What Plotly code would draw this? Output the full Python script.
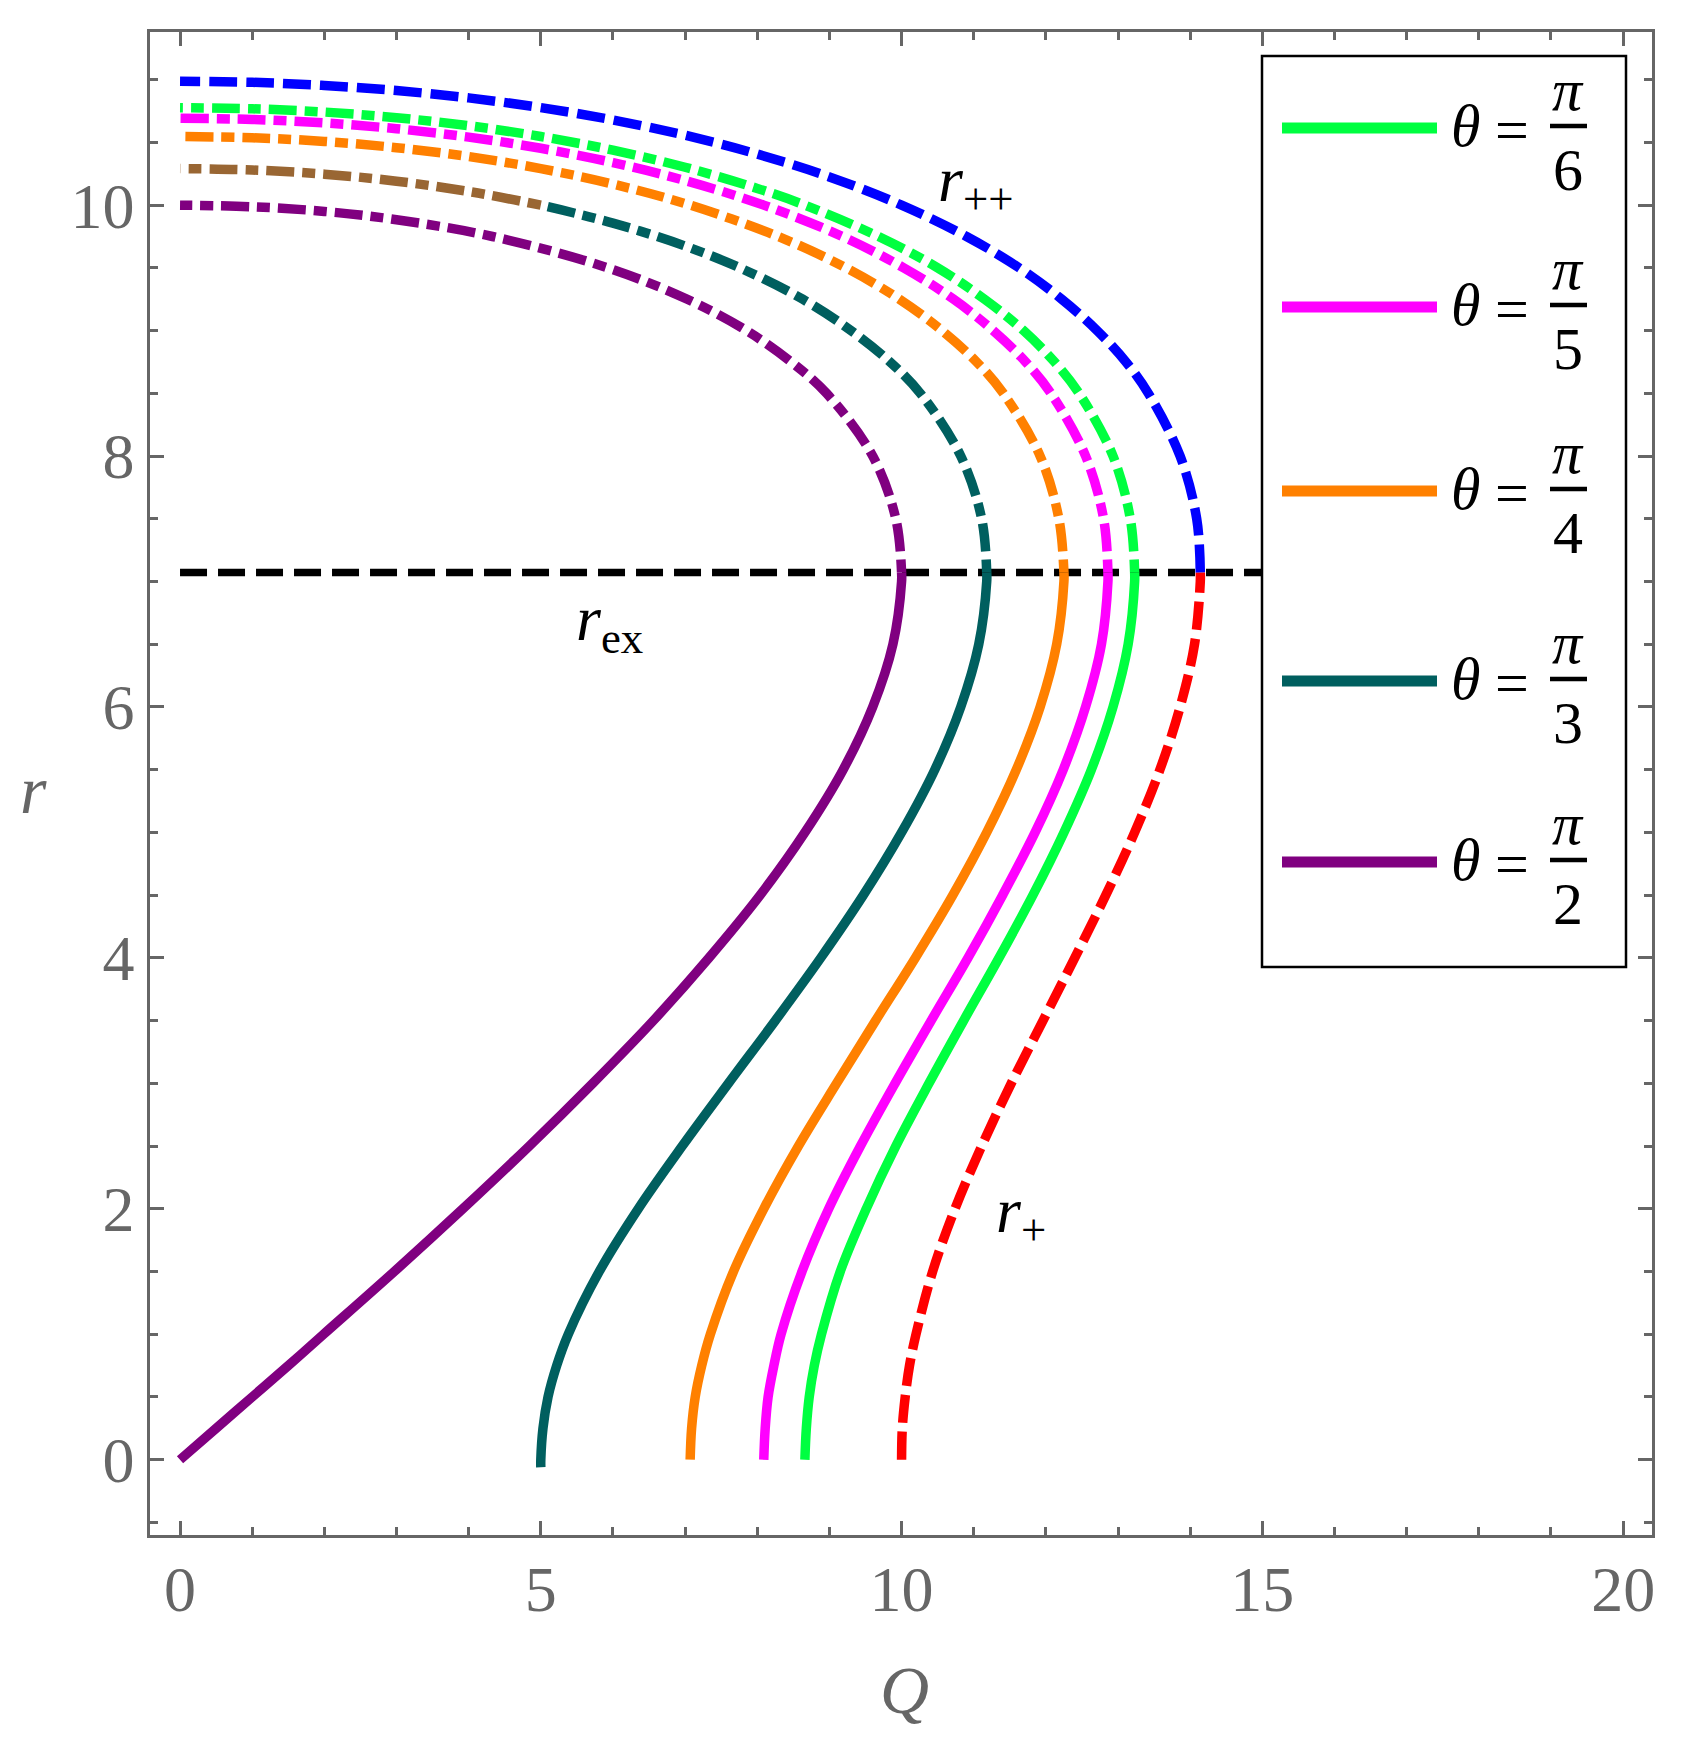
import plotly.graph_objects as go

# ---------------- data ----------------
# lower (solid) branches: shared r samples, Q per theta
R_LOW = [0, 0.25, 0.5, 0.75, 1, 1.5, 2, 2.5, 3, 3.5, 4, 4.5, 5, 5.5, 6, 6.5, 7, 7.071]
Q_LOW_PI2 = [0, 0.50, 1.00, 1.50, 1.99, 2.97, 3.92, 4.84, 5.72, 6.56, 7.33, 8.04, 8.66, 9.19, 9.60, 9.88, 10.00, 10.00]
R_LOW_PI3 = [-0.06, 0, 0.25, 0.5, 0.75, 1, 1.5, 2, 2.5, 3, 3.5, 4, 4.5, 5, 5.5, 6, 6.5, 7, 7.071]
Q_LOW_PI3 = [5.00, 5.00, 5.03, 5.10, 5.22, 5.38, 5.81, 6.35, 6.96, 7.60, 8.25, 8.88, 9.47, 10.00, 10.46, 10.82, 11.07, 11.18, 11.18]
Q_LOW_PI4 = [7.07, 7.09, 7.14, 7.23, 7.35, 7.67, 8.09, 8.57, 9.10, 9.64, 10.19, 10.71, 11.18, 11.59, 11.92, 12.15, 12.25, 12.25]
Q_LOW_PI5 = [8.09, 8.11, 8.15, 8.23, 8.33, 8.62, 8.99, 9.43, 9.91, 10.41, 10.92, 11.40, 11.85, 12.24, 12.55, 12.77, 12.86, 12.86]
Q_LOW_PI6 = [8.66, 8.68, 8.72, 8.79, 8.89, 9.15, 9.51, 9.92, 10.38, 10.86, 11.35, 11.82, 12.25, 12.63, 12.93, 13.14, 13.23, 13.23]
Q_RPLUS = [10.00, 10.01, 10.05, 10.11, 10.20, 10.43, 10.74, 11.11, 11.52, 11.96, 12.40, 12.83, 13.23, 13.58, 13.86, 14.06, 14.14, 14.14]

# upper (dash-dot) branches
Q_UP_PI2 = [10.00, 9.92, 9.60, 8.96, 8.47, 7.85, 7.03, 5.93, 4.33, 3.00, 2.00, 1.00, 0.00]
R_UP_PI2 = [7.071, 7.5, 8, 8.5, 8.75, 9, 9.25, 9.5, 9.75, 9.884, 9.950, 9.987, 10.0]

Q_UP_PI3 = [11.18, 11.11, 10.82, 10.26, 9.84, 9.30, 8.63, 7.76, 7.00, 6.00, 5.00]
R_UP_PI3 = [7.071, 7.5, 8, 8.5, 8.75, 9, 9.25, 9.5, 9.674, 9.857, 10.0]
Q_UP_PI3_BROWN = [5, 4, 3, 2, 1, 0]
R_UP_PI3_BROWN = [10.0, 10.109, 10.191, 10.247, 10.280, 10.291]

Q_UP_PI4 = [12.25, 12.18, 11.92, 11.41, 11.04, 10.56, 9.97, 9.23, 8.29, 7.07, 6, 5, 4, 3, 2, 1, 0]
R_UP_PI4 = [7.071, 7.5, 8, 8.5, 8.75, 9, 9.25, 9.5, 9.75, 10.0, 10.168, 10.291, 10.387, 10.458, 10.508, 10.537, 10.547]

Q_UP_PI5 = [12.86, 12.80, 12.55, 12.07, 11.72, 11.27, 10.72, 10.03, 9.18, 8.09, 7, 6, 5, 4, 3, 2, 1, 0]
R_UP_PI5 = [7.071, 7.5, 8, 8.5, 8.75, 9, 9.25, 9.5, 9.75, 10.0, 10.196, 10.339, 10.453, 10.542, 10.609, 10.655, 10.683, 10.692]

Q_UP_PI6 = [13.23, 13.17, 12.93, 12.46, 12.12, 11.69, 11.15, 10.50, 9.68, 8.66, 8, 7, 6, 5, 4, 3, 2, 1, 0]
R_UP_PI6 = [7.071, 7.5, 8, 8.5, 8.75, 9, 9.25, 9.5, 9.75, 10.0, 10.133, 10.302, 10.438, 10.547, 10.633, 10.697, 10.742, 10.768, 10.777]

Q_RPP = [14.14, 14.09, 13.86, 13.42, 13.11, 12.71, 12.22, 11.63, 10.90, 10.00, 9, 8, 7, 6, 5, 4, 3, 2, 1, 0]
R_RPP = [7.071, 7.5, 8, 8.5, 8.75, 9, 9.25, 9.5, 9.75, 10.0, 10.225, 10.407, 10.557, 10.679, 10.777, 10.855, 10.913, 10.954, 10.979, 10.987]

Q_REX = [0, 15]
R_REX = [7.071, 7.071]

LEGEND_LABELS = ["6", "5", "4", "3", "2"]
X_TICKS = [0, 5, 10, 15, 20]
Y_TICKS = [0, 2, 4, 6, 8, 10]

# ---------------- style ----------------
GREEN = "#00ff40"
MAGENTA = "#ff00ff"
ORANGE = "#ff8000"
TEAL = "#005f5f"
PURPLE = "#800080"
BROWN = "#996633"
BLUE = "#0000ff"
RED = "#ff0000"
GRAY = "#666666"
FONT = "Liberation Serif, Times New Roman, serif"
DASHDOT = "13px,8px,28px,8px"
DASH = "28px,9px"
LW = 9.5

OFF = 8  # page body margin
W, H = 1676, 1726
# plot area in screenshot pixels: x 150..1652, y 32..1535
ML = 150 - OFF
MT = 32 - OFF
MR = W - (1652 - OFF)
MB = H - (1535 - OFF)
PW = W - ML - MR
PH = H - MT - MB


def px(x):
    return (x - OFF - ML) / PW


def py(y):
    return (H - MB - (y - OFF)) / PH


fig = go.Figure()


def add(q, r, color, dash=None, width=LW):
    fig.add_trace(go.Scatter(x=q, y=r, mode="lines", showlegend=False, hoverinfo="skip",
                             line=dict(color=color, width=width, dash=dash, shape="spline", smoothing=1.0)))


add(Q_REX, R_REX, "black", "27px,11px", 7.5)
add(Q_LOW_PI2, R_LOW, PURPLE)
add(Q_LOW_PI3, R_LOW_PI3, TEAL)
add(Q_LOW_PI4, R_LOW, ORANGE)
add(Q_LOW_PI5, R_LOW, MAGENTA)
add(Q_LOW_PI6, R_LOW, GREEN)
add(Q_UP_PI2, R_UP_PI2, PURPLE, DASHDOT)
add(Q_UP_PI3, R_UP_PI3, TEAL, DASHDOT)
add(Q_UP_PI3_BROWN, R_UP_PI3_BROWN, BROWN, DASHDOT)
add(Q_UP_PI4, R_UP_PI4, ORANGE, DASHDOT)
add(Q_UP_PI5, R_UP_PI5, MAGENTA, DASHDOT)
add(Q_UP_PI6, R_UP_PI6, GREEN, DASHDOT)
add(Q_RPP, R_RPP, BLUE, DASH)
add(Q_RPLUS, R_LOW, RED, DASH)

axis_common = dict(
    showline=True, linecolor=GRAY, linewidth=2.5, mirror="ticks",
    ticks="inside", ticklen=14, tickwidth=2.5, tickcolor=GRAY,
    showgrid=False, zeroline=False,
    tickfont=dict(family=FONT, size=64, color=GRAY),
)

fig.update_layout(
    width=W, height=H,
    margin=dict(l=ML, r=MR, t=MT, b=MB),
    paper_bgcolor="white", plot_bgcolor="white",
    showlegend=False,
    xaxis=dict(range=[-0.416, 20.40], tickvals=X_TICKS, ticklabelstandoff=-4,
               minor=dict(ticks="inside", ticklen=8, tickwidth=2.5, tickcolor=GRAY, dtick=1, tick0=0, showgrid=False),
               **axis_common),
    yaxis=dict(range=[-0.60, 11.38], tickvals=Y_TICKS, ticklabelstandoff=0,
               minor=dict(ticks="inside", ticklen=8, tickwidth=2.5, tickcolor=GRAY, dtick=0.5, tick0=0, showgrid=False),
               **axis_common),
)

ann = []
shapes = []
# axis titles
ann.append(dict(text="<i>Q</i>", xref="paper", yref="paper", x=px(904), y=py(1690), showarrow=False,
                xanchor="center", yanchor="middle", font=dict(family=FONT, size=68, color=GRAY)))
ann.append(dict(text="<i>r</i>", xref="paper", yref="paper", x=px(33), y=py(790), showarrow=False,
                xanchor="center", yanchor="middle", font=dict(family=FONT, size=68, color=GRAY)))
# curve labels
lab_font = dict(family=FONT, size=64, color="black")
ann.append(dict(text="<i>r</i><sub>++</sub>", x=11.03, y=10.17, xref="x", yref="y", showarrow=False,
                xanchor="center", yanchor="middle", font=lab_font))
ann.append(dict(text="<i>r</i><sub>ex</sub>", x=5.95, y=6.67, xref="x", yref="y", showarrow=False,
                xanchor="center", yanchor="middle", font=lab_font))
ann.append(dict(text="<i>r</i><sub>+</sub>", x=11.65, y=1.95, xref="x", yref="y", showarrow=False,
                xanchor="center", yanchor="middle", font=lab_font))

# legend box
shapes.append(dict(type="rect", xref="paper", yref="paper", x0=px(1262), x1=px(1626), y0=py(967), y1=py(56),
                   line=dict(color="black", width=2.5), fillcolor="white", layer="above"))
leg_colors = [GREEN, MAGENTA, ORANGE, TEAL, PURPLE]
leg_y = [128, 307, 491, 681, 862]
leg_font = dict(family=FONT, size=60, color="black")
for col, ly, den in zip(leg_colors, leg_y, LEGEND_LABELS):
    shapes.append(dict(type="line", xref="paper", yref="paper", x0=px(1282), x1=px(1437), y0=py(ly), y1=py(ly),
                       line=dict(color=col, width=11), layer="above"))
    ann.append(dict(text="<i>θ</i>", xref="paper", yref="paper", x=px(1465), y=py(ly - 2), showarrow=False,
                    xanchor="center", yanchor="middle", font=leg_font))
    ann.append(dict(text="=", xref="paper", yref="paper", x=px(1512), y=py(ly + 2), showarrow=False,
                    xanchor="center", yanchor="middle", font=leg_font))
    shapes.append(dict(type="line", xref="paper", yref="paper", x0=px(1550), x1=px(1587), y0=py(ly - 2), y1=py(ly - 2),
                       line=dict(color="black", width=4.5), layer="above"))
    ann.append(dict(text="<i>π</i>", xref="paper", yref="paper", x=px(1568), y=py(ly - 38), showarrow=False,
                    xanchor="center", yanchor="middle", font=leg_font))
    ann.append(dict(text=den, xref="paper", yref="paper", x=px(1568), y=py(ly + 42), showarrow=False,
                    xanchor="center", yanchor="middle", font=leg_font))

fig.update_layout(annotations=ann, shapes=shapes)
fig.write_html("out.html")
